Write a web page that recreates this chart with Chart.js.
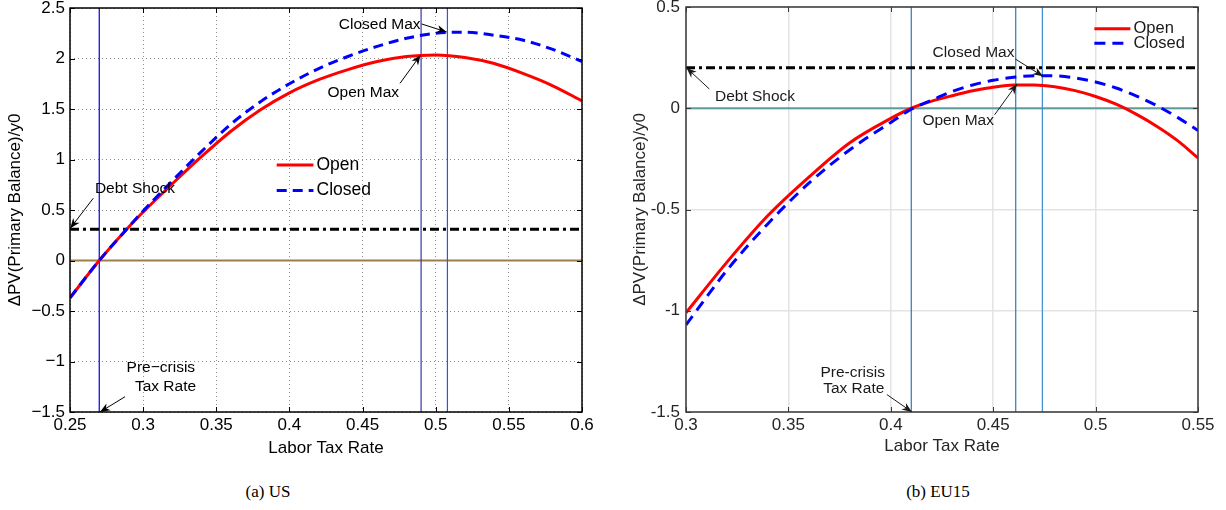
<!DOCTYPE html>
<html><head><meta charset="utf-8">
<script src="https://cdn.jsdelivr.net/npm/chart.js@4.4.0/dist/chart.umd.min.js"></script>
<style>
html,body{margin:0;padding:0;background:#fff;}
#wrap{position:relative;width:1226px;height:510px;overflow:hidden;background:#fff;}
canvas{position:absolute;top:0;}
#cA{left:0;} #cB{left:616px;}
.cap{position:absolute;top:482px;font-family:'Liberation Serif','DejaVu Serif',serif;font-size:17px;color:#000;transform:translateX(-50%);white-space:nowrap;}
</style></head><body>
<div id="wrap">
<canvas id="cA" width="610" height="470"></canvas>
<canvas id="cB" width="610" height="470"></canvas>
<div class="cap" style="left:268px">(a) US</div>
<div class="cap" style="left:938px">(b) EU15</div>
</div>
<script>
// ---------- data: (a) US ----------
const usTaxRates = [0.25,0.27,0.29,0.30,0.32,0.34,0.36,0.38,0.40,0.42,0.44,0.46,0.48,0.50,0.52,0.54,0.56,0.58,0.60];
const usOpen     = [-0.37,0.00,0.33,0.48,0.76,1.03,1.28,1.49,1.66,1.79,1.89,1.97,2.02,2.035,2.01,1.95,1.85,1.73,1.58];
const usClosed   = [-0.37,0.00,0.33,0.49,0.79,1.08,1.35,1.57,1.75,1.90,2.02,2.12,2.20,2.25,2.26,2.23,2.18,2.09,1.97];
const usXTicks   = [0.25,0.3,0.35,0.4,0.45,0.5,0.55,0.6];
const usYTicks   = [-1.5,-1,-0.5,0,0.5,1,1.5,2,2.5];
const usPreCrisis = 0.27, usOpenMax = 0.49, usClosedMax = 0.508, usDebtShock = 0.31;

// ---------- data: (b) EU15 ----------
const euTaxRates = [0.30,0.32,0.34,0.36,0.38,0.40,0.41,0.42,0.43,0.44,0.45,0.46,0.47,0.48,0.49,0.50,0.51,0.52,0.53,0.54,0.55];
const euOpen     = [-1.01,-0.76,-0.53,-0.34,-0.17,-0.05,0.00,0.035,0.062,0.086,0.104,0.115,0.115,0.106,0.087,0.058,0.02,-0.03,-0.09,-0.16,-0.245];
const euClosed   = [-1.07,-0.80,-0.57,-0.37,-0.205,-0.07,-0.005,0.04,0.083,0.115,0.138,0.153,0.161,0.160,0.150,0.130,0.100,0.060,0.012,-0.045,-0.11];
const euXTicks   = [0.3,0.35,0.4,0.45,0.5,0.55];
const euYTicks   = [-1.5,-1,-0.5,0,0.5];
const euPreCrisis = 0.41, euOpenMax = 0.461, euClosedMax = 0.474, euDebtShock = 0.2;

const seriesNames = ['Open','Closed'];

Chart.defaults.font.family = "'Liberation Sans', Arial, Helvetica, sans-serif";

const fmt = v => String(Math.round(v*1000)/1000);

const framePlugin = {
  id: 'frame',
  afterDatasetsDraw(chart, args, o) {
    const {ctx, chartArea: a, scales: {x, y}} = chart;
    ctx.save();
    ctx.strokeStyle = o.color;
    ctx.lineWidth = o.tickWidth;
    ctx.beginPath();
    x.ticks.forEach(t => {
      const p = Math.round(x.getPixelForValue(t.value)) + 0.5;
      ctx.moveTo(p, a.bottom); ctx.lineTo(p, a.bottom - o.len);
      ctx.moveTo(p, a.top); ctx.lineTo(p, a.top + o.len);
    });
    y.ticks.forEach(t => {
      const p = Math.round(y.getPixelForValue(t.value)) + 0.5;
      ctx.moveTo(a.left, p); ctx.lineTo(a.left + o.len, p);
      ctx.moveTo(a.right, p); ctx.lineTo(a.right - o.len, p);
    });
    ctx.stroke();
    ctx.lineWidth = o.width;
    ctx.strokeRect(a.left, a.top, a.right - a.left, a.bottom - a.top);
    ctx.restore();
  }
};

function arrowHead(ctx, x1, y1, x2, y2) {
  const ang = Math.atan2(y2 - y1, x2 - x1);
  const L = 10, W = 4, N = 7;
  const bx = x2 - L*Math.cos(ang), by = y2 - L*Math.sin(ang);
  const nx = x2 - N*Math.cos(ang), ny = y2 - N*Math.sin(ang);
  const px = -Math.sin(ang), py = Math.cos(ang);
  ctx.beginPath();
  ctx.moveTo(x2, y2);
  ctx.lineTo(bx + px*W, by + py*W);
  ctx.lineTo(nx, ny);
  ctx.lineTo(bx - px*W, by - py*W);
  ctx.closePath();
  ctx.fill();
}

const notesPlugin = {
  id: 'notes',
  afterDatasetsDraw(chart, args, o) {
    const {ctx, scales: {x, y}} = chart;
    ctx.save();
    ctx.fillStyle = o.color; ctx.strokeStyle = o.color;
    ctx.font = o.size + "px 'Liberation Sans', Arial, sans-serif";
    ctx.textAlign = 'center'; ctx.textBaseline = 'middle';
    (o.texts || []).forEach(t => ctx.fillText(t.text, x.getPixelForValue(t.x), y.getPixelForValue(t.y)));
    ctx.lineWidth = 1;
    (o.arrows || []).forEach(ar => {
      const x1 = x.getPixelForValue(ar.from[0]), y1 = y.getPixelForValue(ar.from[1]);
      const x2 = x.getPixelForValue(ar.to[0]), y2 = y.getPixelForValue(ar.to[1]);
      ctx.beginPath(); ctx.moveTo(x1, y1); ctx.lineTo(x2, y2); ctx.stroke();
      arrowHead(ctx, x1, y1, x2, y2);
    });
    ctx.restore();
  }
};

const keyPlugin = {
  id: 'key',
  afterDatasetsDraw(chart, args, o) {
    const {ctx, scales: {x, y}} = chart;
    ctx.save();
    ctx.font = o.size + "px 'Liberation Sans', Arial, sans-serif";
    ctx.textAlign = 'left'; ctx.textBaseline = 'middle';
    o.items.forEach((it, i) => {
      const ds = chart.data.datasets.find(d => d.label === it);
      const yy = y.getPixelForValue(o.rows[i]);
      ctx.strokeStyle = ds.borderColor; ctx.lineWidth = ds.borderWidth;
      ctx.setLineDash(ds.borderDash || []);
      ctx.beginPath();
      ctx.moveTo(x.getPixelForValue(o.x0), yy); ctx.lineTo(x.getPixelForValue(o.x1), yy);
      ctx.stroke();
      ctx.setLineDash([]);
      ctx.fillStyle = o.color;
      ctx.fillText(it, x.getPixelForValue(o.tx), yy);
    });
    ctx.restore();
  }
};

function pts(xs, ys) { return xs.map((v, i) => ({x: v, y: ys[i]})); }

function makeChart(id, c) {
  const xmin = c.xTicks[0], xmax = c.xTicks[c.xTicks.length-1];
  const ymin = c.yTicks[0], ymax = c.yTicks[c.yTicks.length-1];
  const vline = (v, col, ord) => ({label: 'ref', data: [{x: v, y: ymin}, {x: v, y: ymax}], borderColor: col, borderWidth: 1.2, order: ord});
  return new Chart(document.getElementById(id), {
    type: 'line',
    data: {datasets: [
      {label: seriesNames[1], data: pts(c.x, c.closed), borderColor: '#0000ff', borderWidth: 3, borderDash: c.dash, order: 0, cubicInterpolationMode: 'monotone'},
      {label: seriesNames[0], data: pts(c.x, c.open), borderColor: '#ff0000', borderWidth: 3, order: 1, cubicInterpolationMode: 'monotone'},
      {label: 'Debt Shock', data: [{x: xmin, y: c.debt}, {x: xmax, y: c.debt}], borderColor: '#000', borderWidth: 3, borderDash: [9,4,3,4], order: 2},
      {label: 'zero', data: [{x: xmin, y: 0}, {x: xmax, y: 0}], borderColor: c.zeroColor, borderWidth: 2, order: 5},
      vline(c.pre, c.vColors[0], 3),
      vline(c.omax, c.vColors[1], 3),
      vline(c.cmax, c.vColors[2], 3)
    ]},
    options: {
      responsive: false, animation: false, devicePixelRatio: 1,
      layout: {padding: {left: 0, top: c.top, right: 28, bottom: 0}},
      elements: {point: {radius: 0, hoverRadius: 0}},
      events: [],
      plugins: {
        legend: {display: false}, tooltip: {enabled: false},
        frame: {color: c.frameColor, width: 1.5, tickWidth: 1, len: 5},
        notes: c.notes,
        key: c.key
      },
      scales: {
        x: {
          type: 'linear', min: xmin, max: xmax,
          afterBuildTicks: s => { s.ticks = c.xTicks.map(v => ({value: v})); },
          afterFit: s => { s.height = 58; s.paddingLeft = 0; s.paddingRight = 0; },
          grid: {color: c.gridColor, lineWidth: c.gridWidth, drawTicks: false},
          border: {display: false, dash: c.gridDash},
          ticks: {autoSkip: false, maxRotation: 0, padding: 3, color: c.textColor, font: {size: 17}, callback: v => c.fmtTick(v)},
          title: {display: true, text: 'Labor Tax Rate', color: c.textColor, font: {size: 17}, padding: {top: 0, bottom: c.xTitlePad}}
        },
        y: {
          type: 'linear', min: ymin, max: ymax,
          afterBuildTicks: s => { s.ticks = c.yTicks.map(v => ({value: v})); },
          afterFit: s => { s.width = 70; s.paddingTop = 0; s.paddingBottom = 0; },
          grid: {color: c.gridColor, lineWidth: c.gridWidth, drawTicks: false},
          border: {display: false, dash: c.gridDash},
          ticks: {autoSkip: false, padding: c.yTickPad, color: c.textColor, font: {size: 17}, callback: v => c.fmtTick(v)},
          title: {display: true, text: '\u0394PV(Primary Balance)/y0', color: c.textColor, font: {size: 17}, padding: {top: c.yTitlePad, bottom: 0}}
        }
      }
    },
    plugins: [framePlugin, notesPlugin, keyPlugin]
  });
}

makeChart('cA', {
  x: usTaxRates, open: usOpen, closed: usClosed, xTicks: usXTicks, yTicks: usYTicks,
  pre: usPreCrisis, omax: usOpenMax, cmax: usClosedMax, debt: usDebtShock,
  dash: [10,6], zeroColor: '#9b7f50', vColors: ['#0000ee', '#3535a8', '#3050ff'],
  top: 8, frameColor: '#000', gridColor: '#8c8c8c', gridWidth: 1, gridDash: [1,3],
  textColor: '#000', xTitlePad: 11, yTitlePad: 5, yTickPad: 5,
  fmtTick: v => fmt(v).replace('-', '\u2212'),
  notes: {
    color: '#000', size: 15.5,
    texts: [
      {text: 'Closed Max', x: 0.4617, y: 2.33},
      {text: 'Open Max', x: 0.4505, y: 1.66},
      {text: 'Debt Shock', x: 0.2944, y: 0.715},
      {text: 'Pre\u2212crisis', x: 0.3121, y: -1.064},
      {text: 'Tax Rate', x: 0.3153, y: -1.252}
    ],
    arrows: [
      {from: [0.4904, 2.342], to: [0.5075, 2.262]},
      {from: [0.4756, 1.754], to: [0.4897, 2.035]},
      {from: [0.2659, 0.616], to: [0.2502, 0.319]},
      {from: [0.2876, -1.349], to: [0.2705, -1.50]}
    ]
  },
  key: {items: seriesNames, rows: [0.945, 0.693], x0: 0.3913, x1: 0.4164, tx: 0.4185, size: 17.5, color: '#000'}
});

makeChart('cB', {
  x: euTaxRates, open: euOpen, closed: euClosed, xTicks: euXTicks, yTicks: euYTicks,
  pre: euPreCrisis, omax: euOpenMax, cmax: euClosedMax, debt: euDebtShock,
  dash: [11,7], zeroColor: '#5e9d9d', vColors: ['#2a78b6', '#2a78b6', '#3a8ed0'],
  top: 7, frameColor: '#3a3a3a', gridColor: '#e3e3e3', gridWidth: 1.5, gridDash: [],
  textColor: '#262626', xTitlePad: 13, yTitlePad: 14, yTickPad: 6,
  fmtTick: v => fmt(v),
  notes: {
    color: '#1a1a1a', size: 15.5,
    texts: [
      {text: 'Closed Max', x: 0.4404, y: 0.2746},
      {text: 'Open Max', x: 0.4329, y: -0.061},
      {text: 'Debt Shock', x: 0.3337, y: 0.059},
      {text: 'Pre-crisis', x: 0.3814, y: -1.304},
      {text: 'Tax Rate', x: 0.3819, y: -1.385}
    ],
    arrows: [
      {from: [0.4608, 0.243], to: [0.4743, 0.158]},
      {from: [0.4507, -0.032], to: [0.4616, 0.12]},
      {from: [0.3114, 0.095], to: [0.3003, 0.199]},
      {from: [0.3981, -1.414], to: [0.4103, -1.4995]}
    ]
  },
  key: {items: seriesNames, rows: [0.393, 0.3215], x0: 0.4994, x1: 0.5170, tx: 0.5185, size: 16.5, color: '#1a1a1a'}
});
</script>
</body></html>
